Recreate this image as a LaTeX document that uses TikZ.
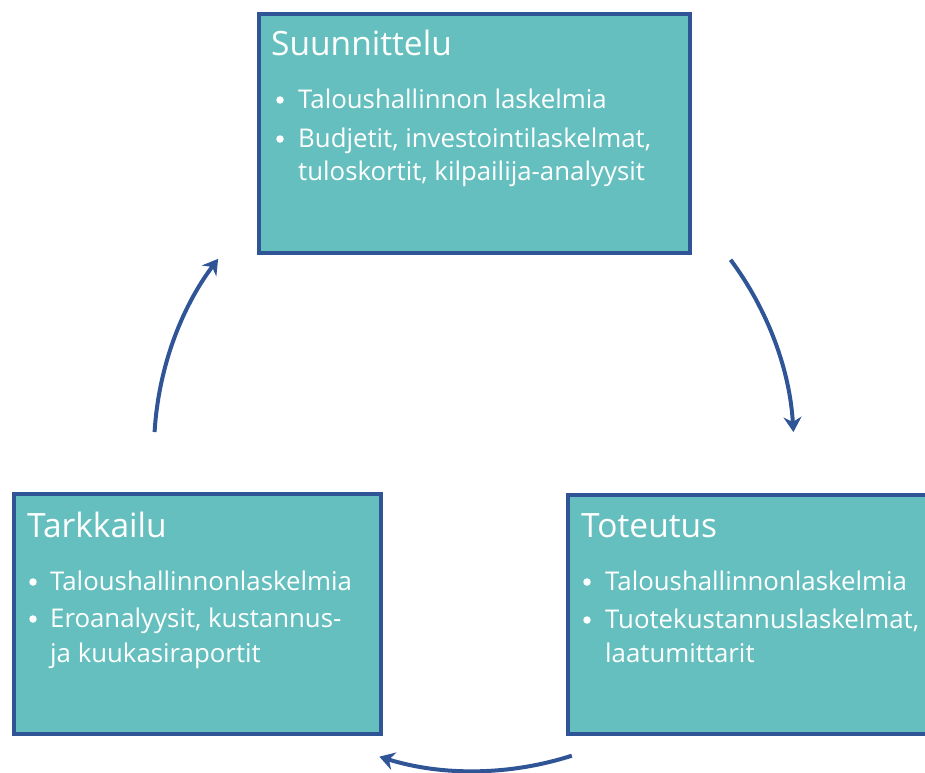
\documentclass[tikz,border=0pt]{standalone}
\usepackage{fontspec}
\setmainfont{Open Sans}
\usetikzlibrary{arrows.meta,calc}
\definecolor{boxfill}{HTML}{66BFBF}
\definecolor{boxline}{HTML}{2F5597}
\begin{document}
\begin{tikzpicture}[x=1pt,y=1pt,
  box/.style={draw=boxline,line width=3.5pt,fill=boxfill},
  ttl/.style={anchor=base west,inner sep=0pt,text=white,font=\fontsize{33.5}{33.5}\selectfont},
  itm/.style={anchor=base west,inner sep=0pt,text=white,font=\fontsize{25.8}{25.8}\selectfont},
  dot/.style={circle,fill=white,inner sep=0pt,minimum size=7.5pt},
  cyc/.style={draw=boxline,line width=4pt,-{Stealth[length=15pt,width=18pt,inset=5pt]}}]
\useasboundingbox (0,0) rectangle (925,-772);
\clip (0,0) rectangle (925,-772);
% boxes
\draw[box] (259,-14) rectangle (690,-253);
\draw[box] (14,-494) rectangle (381,-734);
\draw[box] (568,-495) rectangle (940,-734);
% top box
\node[ttl] (t1) at (271,-55) {Suunnittelu};
\node[dot] (t1d1) at (280,-100) {};
\node[itm] (t1a) at (298,-108) {Taloushallinnon laskelmia};
\node[dot] (t1d2) at (280,-139) {};
\node[itm] (t1b) at (298,-147) {Budjetit, investointilaskelmat,};
\node[itm] (t1c) at (298,-180) {tuloskortit, kilpailija-analyysit};
% right box
\node[ttl] (t2) at (581,-537) {Toteutus};
\node[dot] (t2d1) at (587,-582) {};
\node[itm] (t2a) at (605,-590) {Taloushallinnonlaskelmia};
\node[dot] (t2d2) at (587,-620) {};
\node[itm] (t2b) at (605,-628) {Tuotekustannuslaskelmat,};
\node[itm] (t2c) at (605,-662) {laatumittarit};
% left box
\node[ttl] (t3) at (27,-537) {Tarkkailu};
\node[dot] (t3d1) at (33,-582) {};
\node[itm] (t3a) at (50,-590) {Taloushallinnonlaskelmia};
\node[dot] (t3d2) at (33,-619) {};
\node[itm] (t3b) at (50,-627) {Eroanalyysit, kustannus-};
\node[itm] (t3c) at (50,-662) {ja kuukasiraportit};
% cycle arrows (circle centre (474,-451), radius 320)
\coordinate (cc) at (474,-451);
\coordinate (a1) at ($(cc)+(36.7:320)$);
\draw[cyc] (a1) arc[start angle=36.7,end angle=3.4,radius=320];
\coordinate (a2) at ($(cc)+(-72.2:320)$);
\draw[cyc] (a2) arc[start angle=-72.2,end angle=-107.2,radius=320];
\coordinate (a3) at ($(cc)+(176.6:320)$);
\draw[cyc] (a3) arc[start angle=176.6,end angle=143.1,radius=320];
\end{tikzpicture}
\end{document}
